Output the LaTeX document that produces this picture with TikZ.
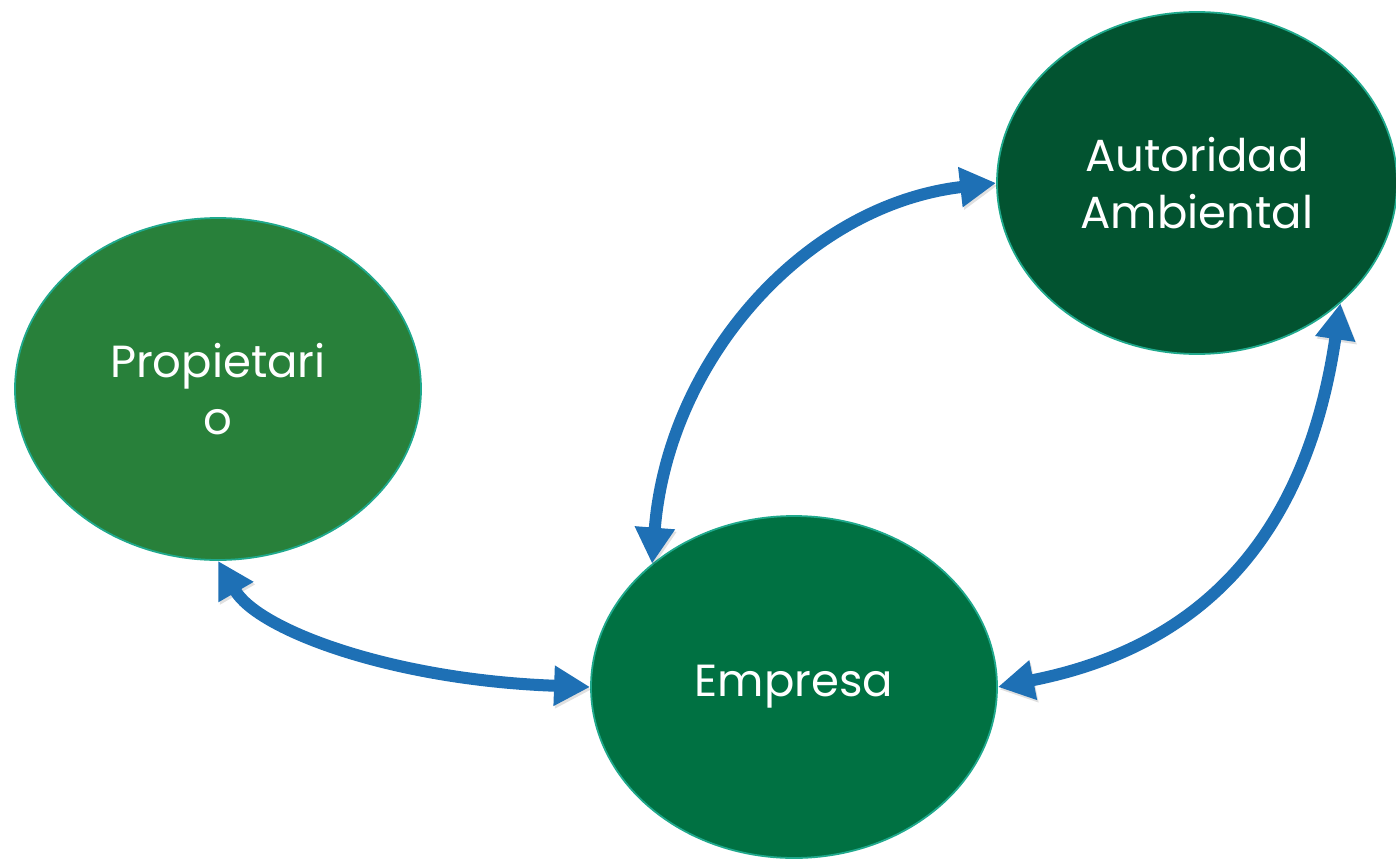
\documentclass[tikz,border=0pt]{standalone}
\usepackage{fontspec}
\setmainfont{Poppins}
\usetikzlibrary{shapes.geometric,arrows.meta}
\definecolor{propfill}{HTML}{28803A}
\definecolor{autfill}{HTML}{025330}
\definecolor{empfill}{HTML}{007142}
\definecolor{rim}{HTML}{1FA98C}
\definecolor{arrowblue}{HTML}{1E70B5}
\tikzset{
  blob/.style={ellipse, draw=rim, line width=1.8pt, minimum width=406pt, minimum height=342pt,
    inner sep=0pt, text=white, align=center, font=\fontsize{45}{57}\selectfont},
  link/.style={draw=arrowblue, line width=12pt,
    {Triangle[length=36pt,width=38pt]}-{Triangle[length=36pt,width=38pt]},
    preaction={draw=black, opacity=0.12, transform canvas={shift={(1.5pt,-2.5pt)}}}}
}
\begin{document}
\begin{tikzpicture}[x=1pt,y=-1pt]
\useasboundingbox (0,0) rectangle (1396,859);
\node[blob, fill=propfill] (prop) at (218,389) {Propietari\\o};
\node[blob, fill=autfill, minimum width=400pt] (aut) at (1197,183) {Autoridad\\Ambiental};
\node[blob, fill=empfill] (emp) at (794,687) {Empresa};
\draw[link] (prop.south) .. controls (258,630) and (392,680) .. (emp.west);
\draw[link] (emp.139) .. controls (668,360) and (805,205) .. (aut.west);
\draw[link] (emp.east) .. controls (1212,645) and (1308,525) .. (aut.-40);
\end{tikzpicture}
\end{document}
